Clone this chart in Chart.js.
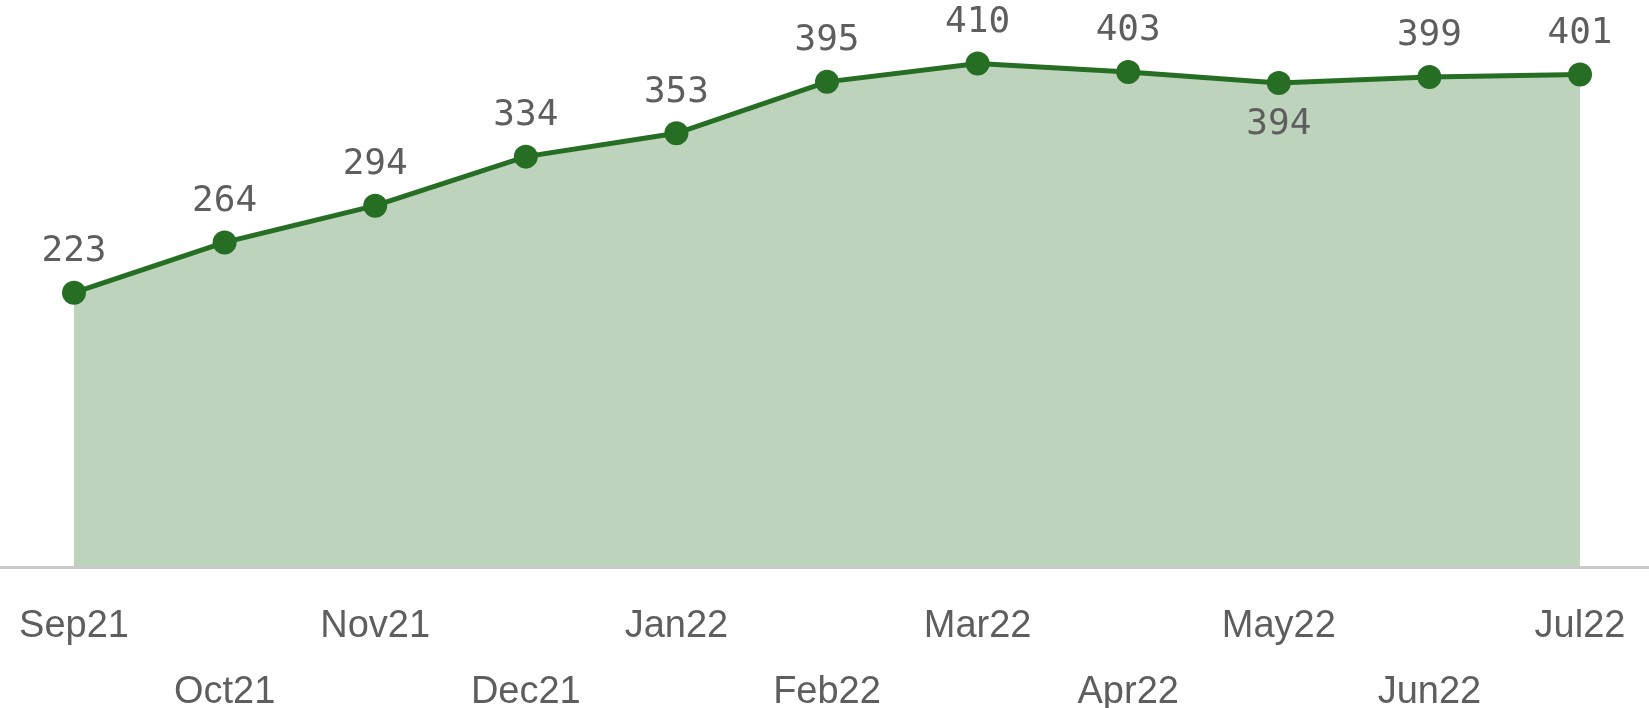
<!DOCTYPE html>
<html>
<head>
<meta charset="utf-8">
<script src="https://cdn.jsdelivr.net/npm/chart.js@4"></script>
<style>
  html, body { margin: 0; padding: 0; background: #fff; }
  #wrap { width: 1649px; height: 708px; position: relative; }
</style>
</head>
<body>
<div id="wrap"><canvas id="chart"></canvas></div>
<script>
// months shown on the x axis
const months = ['Sep21','Oct21','Nov21','Dec21','Jan22','Feb22','Mar22','Apr22','May22','Jun22','Jul22']
// counts per month
const counts = [223, 264, 294, 334, 353, 395, 410, 403, 394, 399, 401]

const lineColor = 'rgb(38,110,36)'
const fillColor = 'rgb(189,211,188)'
const textColor = '#5e5e5e'

// value labels: above the point, below it when the point is a dip between two neighbours
const valueLabels = {
  id: 'valueLabels',
  afterDatasetsDraw(chart) {
    const ctx = chart.ctx
    const meta = chart.getDatasetMeta(0)
    ctx.save()
    ctx.font = '36px "DejaVu Sans Mono"'
    ctx.fillStyle = textColor
    ctx.textAlign = 'center'
    ctx.textBaseline = 'middle'
    meta.data.forEach(function(pt, i) {
      var v = counts[i]
      var dip = i > 0 && i < counts.length - 1 && v < counts[i-1] && v < counts[i+1]
      var y = dip ? pt.y + 42 : pt.y - 41
      ctx.fillText(String(v), pt.x, y)
    })
    ctx.restore()
  }
}

// grey baseline running the full width of the canvas
const baseLine = {
  id: 'baseLine',
  afterDatasetsDraw(chart) {
    const ctx = chart.ctx
    const y = chart.scales.y.getPixelForValue(0)
    ctx.save()
    ctx.fillStyle = '#c9c9c9'
    ctx.fillRect(0, y, chart.width, 3)
    ctx.restore()
  }
}

let myChart = new Chart('chart', {
  type: 'line',
  data: {
    labels: months,
    datasets: [{
      data: counts,
      borderColor: lineColor,
      backgroundColor: fillColor,
      fill: 'origin',
      borderWidth: 5,
      pointRadius: 12,
      pointHoverRadius: 12,
      pointBackgroundColor: lineColor,
      pointBorderWidth: 0,
      tension: 0,
      clip: false
    }]
  },
  options: {
    responsive: true,
    maintainAspectRatio: false,
    animation: false,
    layout: { padding: { left: 74, right: 69, top: 0, bottom: 0 } },
    plugins: { legend: { display: false }, tooltip: { enabled: false } },
    scales: {
      x: {
        offset: false,
        grid: { display: false, drawTicks: false },
        border: { display: false },
        afterFit: function(scale) {
          scale.height = 142
          scale.paddingLeft = 0
          scale.paddingRight = 0
        },
        ticks: {
          autoSkip: false,
          maxRotation: 0,
          padding: 28,
          color: textColor,
          font: { family: '"Liberation Sans", Arial, sans-serif', size: 38, lineHeight: 1.72 },
          callback: function(val, i) {
            var lab = months[i]
            return i % 2 ? ['', lab] : lab
          }
        }
      },
      y: {
        display: false,
        min: 0,
        max: 452
      }
    }
  },
  plugins: [baseLine, valueLabels]
})
</script>
</body>
</html>
